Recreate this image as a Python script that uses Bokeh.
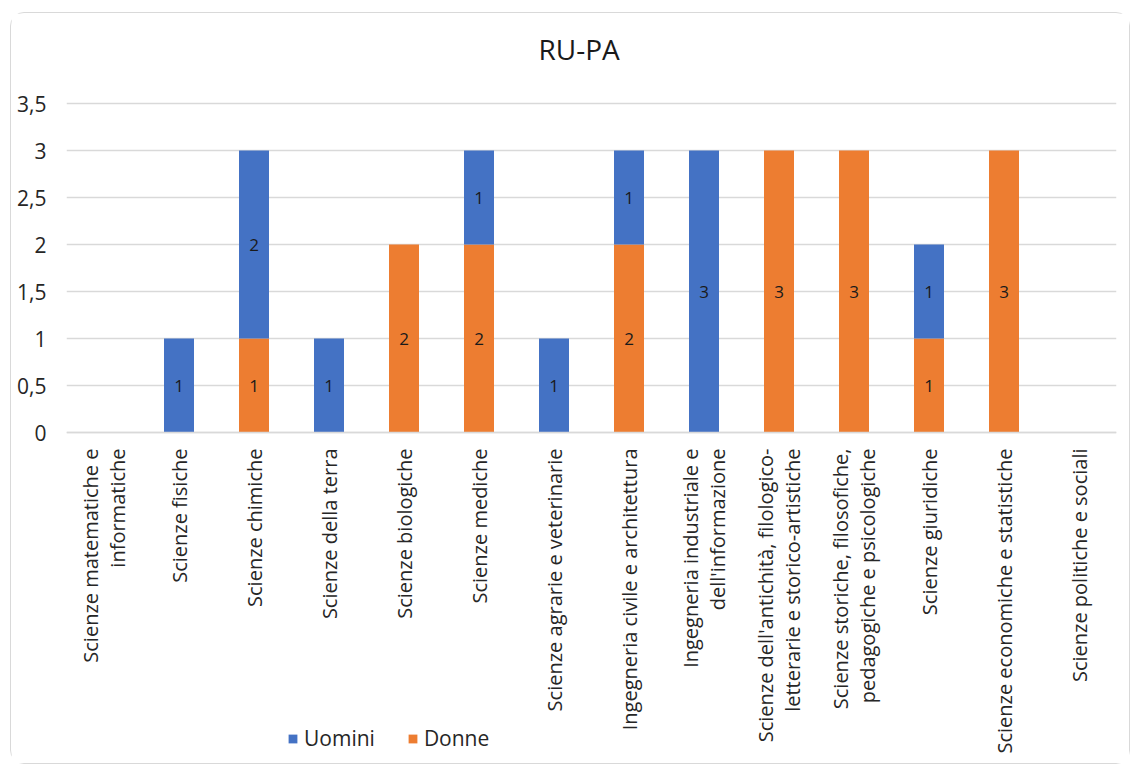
import math
from bokeh.plotting import figure
from bokeh.models import (ColumnDataSource, FactorRange, Range1d, FixedTicker,
                          CustomJSTickFormatter, LabelSet, Legend, LegendItem)
from bokeh.core.properties import value
from bokeh.embed import file_html
from bokeh.resources import INLINE

# ---- data ----
categories = [
    "Scienze matematiche e\ninformatiche",
    "Scienze fisiche",
    "Scienze chimiche",
    "Scienze della terra",
    "Scienze biologiche",
    "Scienze mediche",
    "Scienze agrarie e veterinarie",
    "Ingegneria civile e architettura",
    "Ingegneria industriale e\ndell'informazione",
    "Scienze dell'antichità, filologico-\nletterarie e storico-artistiche",
    "Scienze storiche, filosofiche,\npedagogiche e psicologiche",
    "Scienze giuridiche",
    "Scienze economiche e statistiche",
    "Scienze politiche e sociali",
]
uomini = [0, 1, 2, 1, 0, 1, 1, 1, 3, 0, 0, 1, 0, 0]
donne = [0, 0, 1, 0, 2, 2, 0, 2, 0, 3, 3, 1, 3, 0]
y_ticks = [0, 0.5, 1, 1.5, 2, 2.5, 3, 3.5]
y_max = 3.5

BLUE = "#4472C4"
ORANGE = "#ED7D31"
FONT = "Open Sans"
TXT = "#262626"

# layout (pixels): the plotting frame extends beyond the value axis so that
# the category labels and the legend lie inside it
FRAME_H = 675
TOP_PAD = 22            # frame top -> value y_max
VAL_H = 329             # value y_max -> value 0
unit = VAL_H / y_max
y_end = y_max + TOP_PAD / unit
y_start = -(FRAME_H - TOP_PAD - VAL_H) / unit

source = ColumnDataSource(dict(cat=categories, Donne=donne, Uomini=uomini))

p = figure(x_range=FactorRange(*categories), y_range=Range1d(y_start, y_end),
           frame_width=1050, frame_height=FRAME_H,
           output_backend="svg", toolbar_location=None,
           min_border_left=55, min_border_right=13, min_border_top=68,
           min_border_bottom=7, title="RU-PA")
p.styles = {"border": "1px solid #d9d9d9", "border-radius": "14px",
            "margin-left": "10px", "margin-top": "12px"}
p.outline_line_color = None
p.background_fill_color = "white"
p.border_fill_color = "white"

p.title.align = "left"
p.title.offset = 472
p.title.text_font = FONT
p.title.text_font_size = "28px"
p.title.text_font_style = "normal"
p.title.text_color = "#1a1a1a"
p.title.standoff = 28

renderers = p.vbar_stack(["Donne", "Uomini"], x="cat", width=0.4,
                         color=[ORANGE, BLUE], source=source, line_color=None)

# data labels
lx, ly, lt = [], [], []
for c, d, u in zip(categories, donne, uomini):
    if d:
        lx.append(c); ly.append(d / 2); lt.append(str(d))
    if u:
        lx.append(c); ly.append(d + u / 2); lt.append(str(u))
lab_src = ColumnDataSource(dict(x=lx, y=ly, t=lt))
p.add_layout(LabelSet(x="x", y="y", text="t", source=lab_src,
                      text_align="center", text_baseline="middle",
                      text_font=value(FONT), text_font_size=value("17px"),
                      text_color="#1a1a1a"))

# axes
p.yaxis.ticker = FixedTicker(ticks=y_ticks)
p.yaxis.formatter = CustomJSTickFormatter(code="return tick.toString().replace('.', ',');")
p.yaxis.axis_line_color = None
p.yaxis.major_tick_line_color = None
p.yaxis.minor_tick_line_color = None
p.yaxis.major_tick_out = 0
p.yaxis.major_label_standoff = 20
p.yaxis.major_label_text_font = FONT
p.yaxis.major_label_text_font_size = "21px"
p.yaxis.major_label_text_color = TXT

p.xaxis.fixed_location = 0
p.xaxis.major_label_orientation = math.pi / 2
p.xaxis.axis_line_color = "#d9d9d9"
p.xaxis.axis_line_width = 1.5
p.xaxis.major_tick_line_color = None
p.xaxis.minor_tick_line_color = None
p.xaxis.major_tick_out = 0
p.xaxis.major_label_standoff = 16
p.xaxis.major_label_text_font = FONT
p.xaxis.major_label_text_font_size = "20px"
p.xaxis.major_label_text_color = TXT
p.xaxis.major_label_text_line_height = 1.0

p.xgrid.grid_line_color = None
p.ygrid.ticker = FixedTicker(ticks=y_ticks)
p.ygrid.grid_line_color = "#d9d9d9"
p.ygrid.grid_line_width = 1.5

legend = Legend(items=[LegendItem(label="Uomini", renderers=[renderers[1]]),
                       LegendItem(label="Donne", renderers=[renderers[0]])],
                location=(221, 4), orientation="horizontal",
                glyph_width=11, glyph_height=11, label_standoff=6, spacing=32,
                padding=0, margin=0, border_line_color=None,
                background_fill_alpha=0,
                label_text_font=FONT, label_text_font_size="21px",
                label_text_color=TXT)
p.add_layout(legend, "center")

open("out.html", "w").write(file_html(p, INLINE))
